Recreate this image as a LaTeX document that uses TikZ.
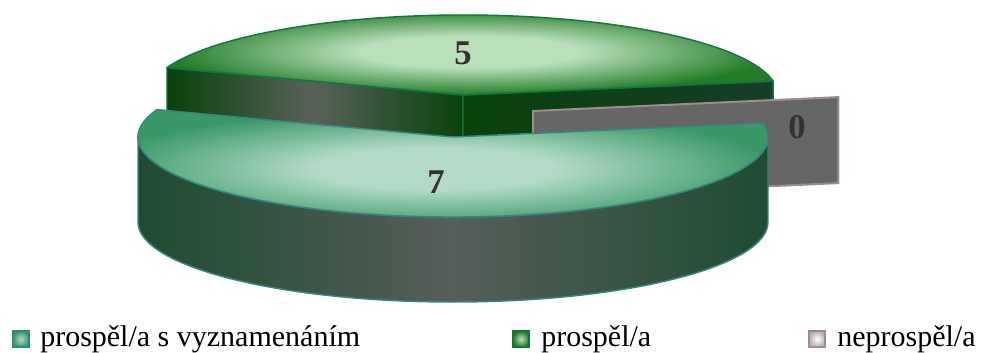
\documentclass[tikz,border=0pt]{standalone}
\usepackage{fontspec}
\setmainfont{Liberation Serif}
\definecolor{grnEdge}{RGB}{34,124,40}
\definecolor{grnLight}{RGB}{186,224,186}
\definecolor{grnLine}{RGB}{18,118,62}
\definecolor{tealEdge}{RGB}{58,152,104}
\definecolor{tealLight}{RGB}{178,218,198}
\definecolor{tealLine}{RGB}{58,132,128}
\definecolor{sideDark}{RGB}{30,76,50}
\definecolor{sideMid}{RGB}{86,94,90}
\definecolor{backDark}{RGB}{8,66,10}
\definecolor{backMid}{RGB}{88,98,88}
\definecolor{zeroFill}{RGB}{102,102,102}
\definecolor{zeroLine}{RGB}{156,140,138}
\definecolor{labelInk}{RGB}{50,50,50}
\pgfdeclareradialshading{greentop}{\pgfpoint{0bp}{0bp}}{color(0bp)=(grnLight); color(9bp)=(grnLight); color(25bp)=(grnEdge); color(50bp)=(grnEdge)}
\pgfdeclareradialshading{tealtop}{\pgfpoint{0bp}{0bp}}{color(0bp)=(tealLight); color(9bp)=(tealLight); color(25bp)=(tealEdge); color(50bp)=(tealEdge)}

\begin{document}
\begin{tikzpicture}[x=0.75pt,y=0.75pt,
	numlbl/.style={text=labelInk,font=\fontsize{26}{26}\selectfont\bfseries},
	legtext/.style={anchor=base west,inner sep=0pt,font=\fontsize{22.5}{24}\selectfont},
	swatch/.style={minimum size=12pt,inner sep=0pt,line width=1pt},
	rimline/.style={line width=1.1pt,line join=round}]
	\useasboundingbox (0,0) rectangle (982,-353);
	% centres of the slices
	\coordinate (c5) at (463,-95);
	\coordinate (c7) at (453,-137);
	\coordinate (c0) at (533,-111);
	\coordinate (r5a) at ([shift={(160:315 and 80)}]c5);
	\coordinate (r5b) at ([shift={(10:315 and 80)}]c5);
	\coordinate (r7a) at ([shift={(160:315 and 80)}]c7);
	\coordinate (r7l) at ([shift={(180:315 and 80)}]c7);
	\coordinate (r0) at ([shift={(10:310 and 80)}]c0);

	% slice 5 (back)
	\shade[left color=backDark,right color=backDark,middle color=backMid,draw=grnLine,rimline]
		(r5a) -- (c5) -- ([shift={(0,-85)}]c5) -- ([shift={(0,-85)}]r5a) -- cycle;
	\shade[left color=backDark,right color=sideDark!80!black,draw=grnLine,rimline]
		(c5) -- (r5b) -- ([shift={(0,-85)}]r5b) -- ([shift={(0,-85)}]c5) -- cycle;
	\shade[shading=greentop,draw=grnLine,rimline]
		(c5) -- (r5b) arc[start angle=10,end angle=160,x radius=315,y radius=80] -- cycle;
	\node[numlbl] (n5) at (463,-53) {5};

	% slice 0, a plane only
	\fill[zeroFill,draw=zeroLine,line width=1.5pt]
		(c0) -- (r0) -- ([shift={(0,-86)}]r0) -- ([shift={(0,-86)}]c0) -- cycle;
	\node[numlbl] (n0) at (797,-127) {0};

	% slice 7 (front, pulled out)
	\shade[left color=sideDark,right color=sideDark,middle color=sideMid,draw=tealLine,rimline]
		(r7l) arc[start angle=180,end angle=360,x radius=315,y radius=80]
		-- ++(0,-85) arc[start angle=360,end angle=180,x radius=315,y radius=80] -- cycle;
	\shade[shading=tealtop,draw=tealLine,rimline]
		(c7) -- (r7a) arc[start angle=160,end angle=370,x radius=315,y radius=80] -- cycle;
	\node[numlbl] (n7) at (436,-182) {7};

	% legend
	\node[swatch,draw=tealLine,inner color=tealLight,outer color=tealEdge] (k1) at (21,-339) {};
	\node[legtext] (t1) at (40,-346) {prospěl/a s vyznamenáním};
	\node[swatch,draw=grnLine,inner color=grnLight,outer color=grnEdge] (k2) at (521,-339) {};
	\node[legtext] (t2) at (541,-346) {prospěl/a};
	\node[swatch,draw=zeroLine,inner color=white,outer color=zeroLine!70] (k3) at (817,-339) {};
	\node[legtext] (t3) at (837,-346) {neprospěl/a};
\end{tikzpicture}
\end{document}
